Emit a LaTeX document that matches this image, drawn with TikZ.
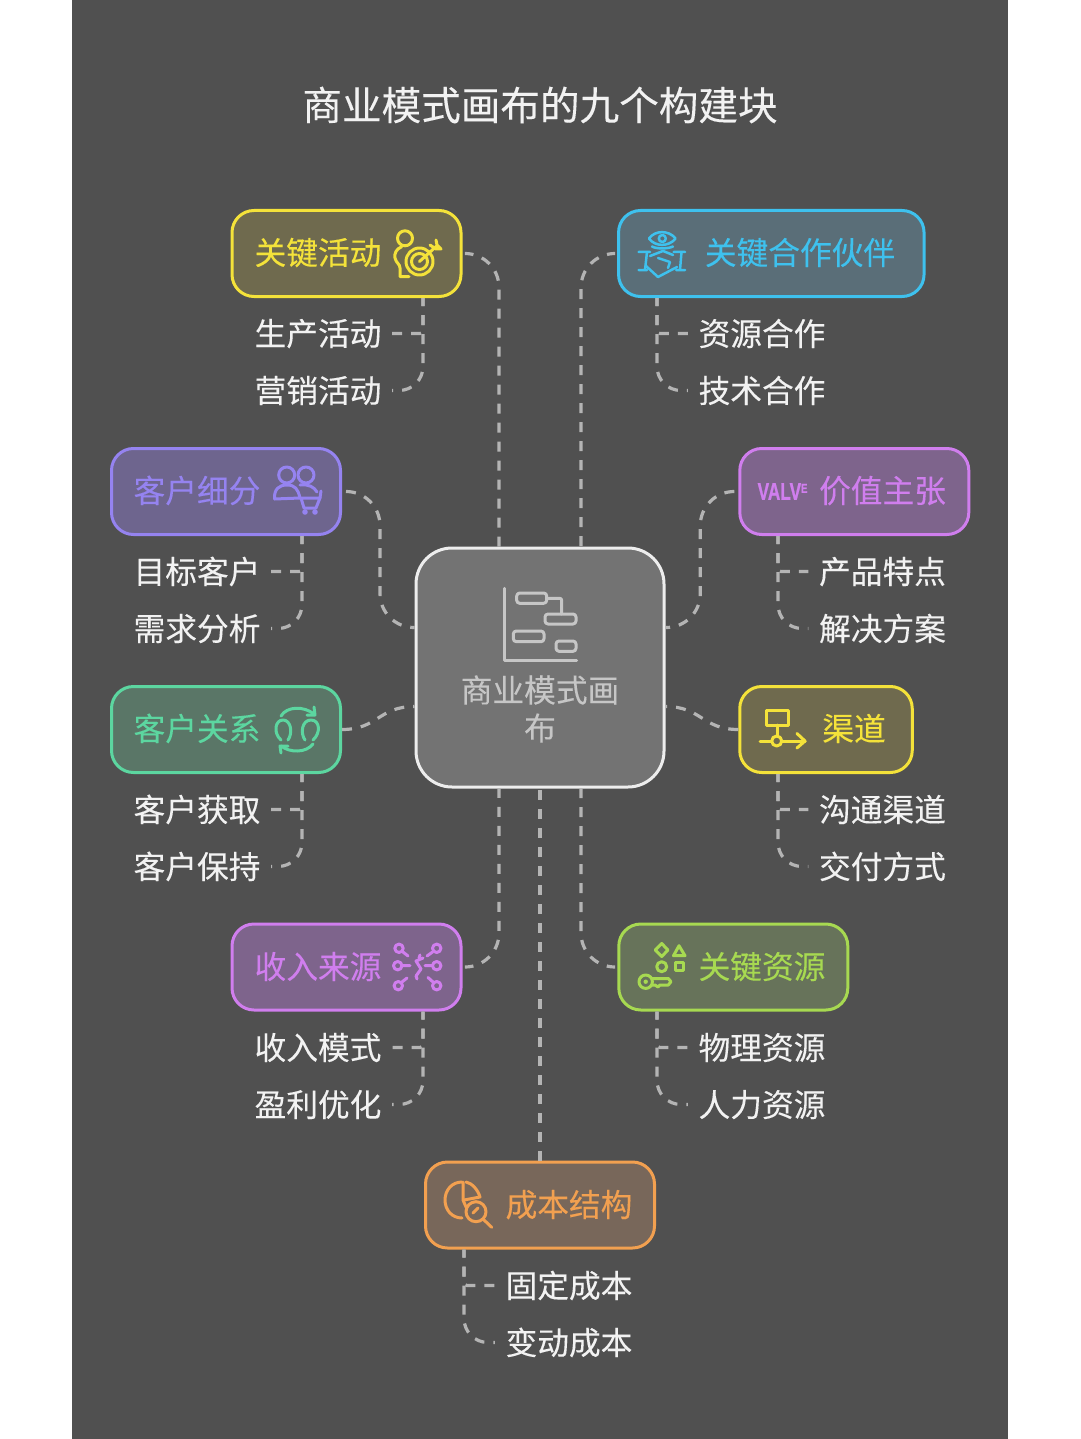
\documentclass[tikz,border=0pt]{standalone}
\usepackage{fontspec}
\setmainfont[FakeBold=0.15]{Noto Sans CJK SC}
\newfontfamily\valvefont[FakeBold=1]{Liberation Sans}
\definecolor{bgdark}{HTML}{505050}
\definecolor{linkc}{HTML}{B4B4B4}
\definecolor{cYellow}{HTML}{F4E23A}\definecolor{fcYellow}{HTML}{6F6A4E}
\definecolor{cCyan}{HTML}{3EC1EE}\definecolor{fcCyan}{HTML}{5A6E78}
\definecolor{cViolet}{HTML}{9583F0}\definecolor{fcViolet}{HTML}{6E658E}
\definecolor{cPink}{HTML}{D07EEE}\definecolor{fcPink}{HTML}{7E648C}
\definecolor{cGreen}{HTML}{5CD6A0}\definecolor{fcGreen}{HTML}{5A7667}
\definecolor{cLime}{HTML}{A7D951}\definecolor{fcLime}{HTML}{67735A}
\definecolor{cOrange}{HTML}{F2A050}\definecolor{fcOrange}{HTML}{78675A}
\definecolor{fHub}{HTML}{737373}
\definecolor{tHub}{HTML}{C6C6C6}
\definecolor{tSub}{HTML}{F2F2F2}
\tikzset{
  x=1pt,y=-1pt,
  card/.style={rounded corners=22pt,draw=#1,fill=f#1,line width=3pt,minimum height=86pt,inner sep=0pt,text=#1},
  hubbox/.style={rounded corners=36pt,draw=white!93!black,fill=fHub,line width=3pt,minimum width=248pt,minimum height=239pt,inner sep=0pt},
  head/.style={inner sep=0pt,font=\fontsize{31.7}{36}\selectfont,text height=27.9pt,text depth=3.8pt,text=#1},
  sub/.style={inner xsep=10.5pt,inner ysep=0pt,font=\fontsize{31.7}{36}\selectfont,text height=27.9pt,text depth=3.8pt,text=tSub},
  link/.style={draw=linkc,line width=3.2pt,dash pattern=on 10pt off 9pt,rounded corners=34pt},
  plainlink/.style={draw=linkc,line width=3.2pt,dash pattern=on 10pt off 9pt},
  branch/.style={draw=linkc,line width=3.2pt,dash pattern=on 10pt off 9pt,dash phase=2pt,rounded corners=#1},
  ico/.style={draw=#1,line width=3pt,line cap=round,line join=round,fill=none},
}
\begin{document}
\begin{tikzpicture}
\useasboundingbox (0,0) rectangle (1080,1439);
\fill[white] (0,0) rectangle (1080,1439);
\fill[bgdark] (72,0) rectangle (1008,1439);
\node[inner sep=0pt,text=tSub,font=\fontsize{39.6}{44}\selectfont] (title) at (540,105) {商业模式画布的九个构建块};

% hub
\node[hubbox] (hub) at (540,667.5) {};
\node[inner sep=0pt,align=center,text=tHub,font=\fontsize{31.7}{38}\selectfont] (hubtext) at (540,709) {商业模式画\\布};
\coordinate (hubN1) at ([xshift=-41pt]hub.north);
\coordinate (hubN2) at ([xshift=41pt]hub.north);
\coordinate (hubS1) at ([xshift=-41pt]hub.south);
\coordinate (hubS2) at ([xshift=41pt]hub.south);
\coordinate (hubW1) at ([yshift=40pt]hub.west);
\coordinate (hubW2) at ([yshift=-39pt]hub.west);
\coordinate (hubE1) at ([yshift=40pt]hub.east);
\coordinate (hubE2) at ([yshift=-39pt]hub.east);

% cards
\node[card=cYellow,minimum width=229pt] (ka) at (346.5,253.5) {};
\node[card=cCyan,minimum width=305.5pt] (kp) at (771.3,253.5) {};
\node[card=cViolet,minimum width=229pt] (cs) at (226,491.5) {};
\node[card=cPink,minimum width=229pt] (vp) at (854.3,491.5) {};
\node[card=cGreen,minimum width=229pt] (cr) at (226,729.5) {};
\node[card=cYellow,minimum width=172.5pt] (ch) at (826,729.5) {};
\node[card=cPink,minimum width=229pt] (rs) at (346.5,967) {};
\node[card=cLime,minimum width=229pt] (kr) at (733.3,967) {};
\node[card=cOrange,minimum width=229pt] (cc) at (540,1205) {};

% headings
\node[head=cYellow] (kaT) at (318,252.5) {关键活动};
\node[head=cCyan] (kpT) at (800,252.5) {关键合作伙伴};
\node[head=cViolet] (csT) at (197,490.5) {客户细分};
\node[head=cPink] (vpT) at (882.5,490.5) {价值主张};
\node[head=cGreen] (crT) at (197,728.5) {客户关系};
\node[head=cYellow] (chT) at (854,728.5) {渠道};
\node[head=cPink] (rsT) at (318,966.5) {收入来源};
\node[head=cLime] (krT) at (762,966.5) {关键资源};
\node[head=cOrange] (ccT) at (569,1204.5) {成本结构};

% sub items
\node[sub] (ka1) at (318,333.5) {生产活动};
\node[sub] (ka2) at (318,390.5) {营销活动};
\node[sub] (kp1) at (762,333.5) {资源合作};
\node[sub] (kp2) at (762,390.5) {技术合作};
\node[sub] (cs1) at (197,571.5) {目标客户};
\node[sub] (cs2) at (197,628.5) {需求分析};
\node[sub] (vp1) at (882.5,571.5) {产品特点};
\node[sub] (vp2) at (882.5,628.5) {解决方案};
\node[sub] (cr1) at (197,809.5) {客户获取};
\node[sub] (cr2) at (197,866.5) {客户保持};
\node[sub] (ch1) at (882.5,809.5) {沟通渠道};
\node[sub] (ch2) at (882.5,866.5) {交付方式};
\node[sub] (rs1) at (318,1047.5) {收入模式};
\node[sub] (rs2) at (318,1104.5) {盈利优化};
\node[sub] (kr1) at (762,1047.5) {物理资源};
\node[sub] (kr2) at (762,1104.5) {人力资源};
\node[sub] (cc1) at (569,1285.5) {固定成本};
\node[sub] (cc2) at (569,1342.5) {变动成本};

% main connectors
\draw[link,shorten <=4pt] (ka.east) -| (hubN1);
\draw[link,shorten <=4pt] (kp.west) -| (hubN2);
\draw[link,shorten <=4pt] (cs.east) -- ([xshift=38pt]cs.east) |- (hubW1);
\draw[link,shorten <=4pt] (vp.west) -- ([xshift=-38pt]vp.west) |- (hubE1);
\draw[plainlink] (cr.east) .. controls +(36,0) and +(-36,0) .. (hubW2);
\draw[plainlink] (ch.west) .. controls +(-36,0) and +(36,0) .. (hubE2);
\draw[link,shorten <=4pt] (rs.east) -| (hubS1);
\draw[link,shorten <=4pt] (kr.west) -| (hubS2);
\draw[plainlink] (cc.north) -- (hub.south);

% branch connectors
\draw[branch=3pt]  ([xshift=76.5pt]ka.south) |- (ka1.east);
\draw[branch=24pt] ([xshift=76.5pt]ka.south) |- (ka2.east);
\draw[branch=3pt]  ([xshift=-114.3pt]kp.south) |- (kp1.west);
\draw[branch=24pt] ([xshift=-114.3pt]kp.south) |- (kp2.west);
\draw[branch=3pt]  ([xshift=76pt]cs.south) |- (cs1.east);
\draw[branch=24pt] ([xshift=76pt]cs.south) |- (cs2.east);
\draw[branch=3pt]  ([xshift=-76.3pt]vp.south) |- (vp1.west);
\draw[branch=24pt] ([xshift=-76.3pt]vp.south) |- (vp2.west);
\draw[branch=3pt]  ([xshift=76pt]cr.south) |- (cr1.east);
\draw[branch=24pt] ([xshift=76pt]cr.south) |- (cr2.east);
\draw[branch=3pt]  ([xshift=-48pt]ch.south) |- (ch1.west);
\draw[branch=24pt] ([xshift=-48pt]ch.south) |- (ch2.west);
\draw[branch=3pt]  ([xshift=76.5pt]rs.south) |- (rs1.east);
\draw[branch=24pt] ([xshift=76.5pt]rs.south) |- (rs2.east);
\draw[branch=3pt]  ([xshift=-76.3pt]kr.south) |- (kr1.west);
\draw[branch=24pt] ([xshift=-76.3pt]kr.south) |- (kr2.west);
\draw[branch=3pt]  ([xshift=-76pt]cc.south) |- (cc1.west);
\draw[branch=24pt] ([xshift=-76pt]cc.south) |- (cc2.west);

% --- icons ---
% hub icon
\draw[ico=tHub] (504.3,588.3) -- (504.3,660.7) -- (576.7,660.7);
\draw[ico=tHub,rounded corners=3pt] (516.7,593) rectangle (546.7,603.3);
\draw[ico=tHub,rounded corners=3pt] (545,614) rectangle (576,624);
\draw[ico=tHub,rounded corners=3pt] (513.3,631) rectangle (544,641.7);
\draw[ico=tHub,rounded corners=3pt] (556,641) rectangle (576,651.3);
\draw[ico=tHub,rounded corners=2pt] (546.7,598.3) -- (561.7,598.3) -- (561.7,614);
% key activities
\draw[ico=cYellow] (405,238.3) circle (7.5);
\draw[ico=cYellow] (401.7,246.7) .. controls (396,249) and (394,254) .. (395,258) .. controls (396,263) and (400,264) .. (400,268) -- (400,276.7) -- (409,276.7);
\draw[ico=cYellow] (419.5,261.5) circle (13.5);
\draw[ico=cYellow] (419.5,261.5) circle (8);
\draw[ico=cYellow] (419.5,261.5) -- (436.7,246);
\draw[ico=cYellow] (430,245) -- (436,249) -- (441,249) -- (437,245) -- (436,240);
% key partners
\draw[ico=cCyan,line width=2.5pt] (649,238.5) .. controls (655,230) and (669,230) .. (675.5,238.5) .. controls (669,247) and (655,247) .. (649,238.5);
\draw[ico=cCyan,line width=2.5pt] (662.3,238.5) circle (3.5);
\draw[ico=cCyan,line width=2.5pt] (652,246.5) .. controls (656,249) and (668,249) .. (673,246.5);
\draw[ico=cCyan,line width=2.5pt] (638.5,252) -- (650,252) (647,252) -- (645,270) (638.5,270) -- (647,270);
\draw[ico=cCyan,line width=2.5pt] (685,252) -- (673.5,252) (681.5,252) -- (680,270) (676,270) -- (685,270);
\draw[ico=cCyan,line width=2.5pt] (650,256) -- (663,251) -- (673,255);
\draw[ico=cCyan,line width=2.5pt] (646,266) -- (658,277) -- (677,267);
\draw[ico=cCyan,line width=2.5pt] (658,258) -- (670,262) -- (668,268);
% customer segments
\draw[ico=cViolet] (286.7,475) circle (8);
\draw[ico=cViolet] (306,475) circle (8);
\draw[ico=cViolet] (274.5,499) .. controls (274,489) and (279,485) .. (287,485) .. controls (295,485) and (298,489) .. (300,498) -- (274.5,499);
\draw[ico=cViolet] (300,485) .. controls (309,484) and (314,487) .. (317,492);
\draw[ico=cViolet] (300,498) -- (320,498) -- (316,508) -- (304,508) -- (301,498);
\draw[ico=cViolet] (320,498) -- (321,491);
\fill[cViolet] (305,512) circle (2.8) (315,512) circle (2.8);
% customer relationships
\draw[ico=cGreen] (281,740) .. controls (273,733) and (275,720) .. (283,720) .. controls (291,720) and (293,733) .. (288,740);
\draw[ico=cGreen] (305,740) .. controls (300,733) and (302,720) .. (311,720) .. controls (320,720) and (321,733) .. (313,740);
\draw[ico=cGreen] (281,716) .. controls (287,706) and (304,706) .. (314,714);
\draw[ico=cGreen] (314,707) -- (315,715) -- (307,715);
\draw[ico=cGreen] (313,744) .. controls (306,753) and (290,753) .. (281,746);
\draw[ico=cGreen] (281,753) -- (280,746) -- (288,746);
% channels
\draw[ico=cYellow] (766.7,710.7) rectangle (788.3,725);
\draw[ico=cYellow] (777.3,725) -- (777.3,736);
\draw[ico=cYellow] (776.7,741) circle (5);
\draw[ico=cYellow] (760,741) -- (771.7,741) (781.7,741) -- (805,741);
\draw[ico=cYellow] (797,733.5) -- (805,741) -- (797,748);
% revenue streams
\foreach \p in {(399,948.3),(436.7,948.3),(397.7,965.7),(436.7,965.7),(398.3,985.7),(436.7,985.7)} \draw[ico=cPink] \p circle (4.2);
\draw[ico=cPink] (403,952) -- (408,956) (432.5,952) -- (427,956) (402,965.7) -- (410,965.7) (432.5,965.7) -- (425,965.7) (402,982) -- (407,978) (433,982) -- (428,977.5);
\draw[ico=cPink] (423,958) -- (416,961) -- (421,969) -- (416,976);
\draw[ico=cPink] (420,955) -- (419,958) (416,976) -- (417,979);
% key resources
\draw[ico=cLime] (661.7,943.5) -- (668,950) -- (661.7,956.5) -- (655.3,950) -- cycle;
\draw[ico=cLime] (679,945.7) -- (685,955.7) -- (673.5,955.7) -- cycle;
\draw[ico=cLime] (661.7,966.7) circle (5);
\draw[ico=cLime] (675,962.3) rectangle (683.3,970.7);
\draw[ico=cLime] (645.7,981.7) circle (6.7);
\fill[cLime] (645.7,981.7) circle (2.2);
\draw[ico=cLime] (652,978.5) -- (668.3,978.5) -- (671,981.7) -- (668.3,985) -- (660,985) -- (658,987) -- (655,985) -- (652,985);
% cost structure
\draw[ico=cOrange] (462,1182) .. controls (452,1182) and (445,1190) .. (445,1200) .. controls (445,1210) and (452,1218) .. (462,1218);
\draw[ico=cOrange] (463,1182) -- (463,1200) -- (466,1207);
\draw[ico=cOrange] (466,1182) .. controls (472,1183) and (478,1190) .. (480,1197) -- (464,1200);
\draw[ico=cOrange] (476,1211.7) circle (10);
\draw[ico=cOrange] (483,1219) -- (491.7,1227.3);
\draw[ico=cOrange] (473,1213) -- (478,1208);
% value proposition word mark
\node[inner sep=0pt,text=cPink,xscale=0.72,font=\valvefont\bfseries\fontsize{24}{26}\selectfont] (valve) at (782.5,491.5) {VALV\raisebox{7pt}{\fontsize{13}{14}\selectfont\bfseries E}};
\end{tikzpicture}
\end{document}
